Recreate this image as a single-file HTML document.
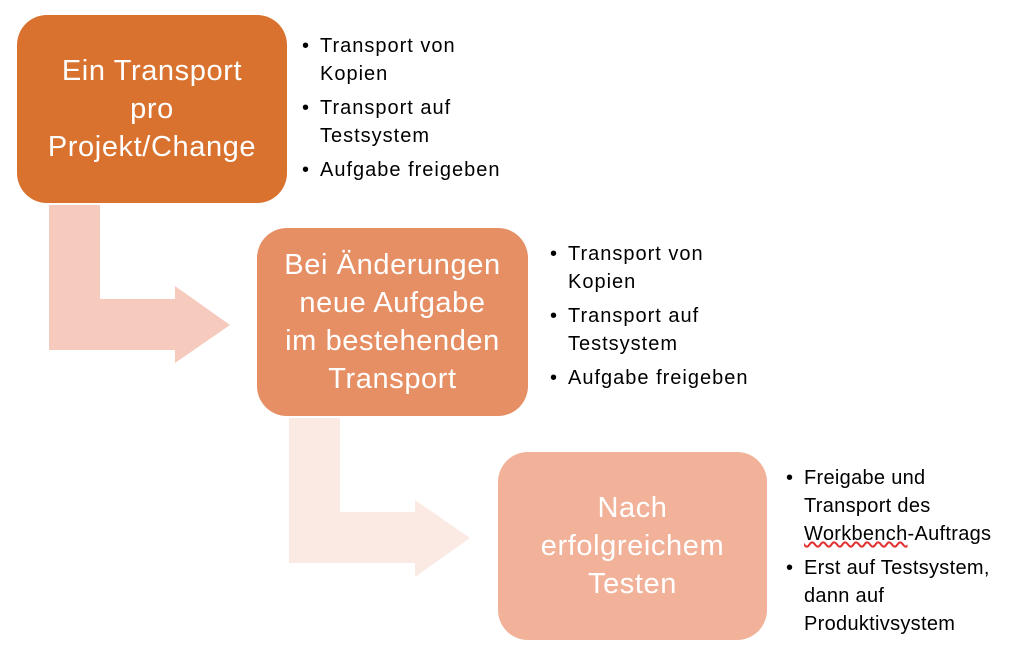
<!DOCTYPE html>
<html><head><meta charset="utf-8"><style>
body{margin:0;width:1024px;height:653px;background:#fff;position:relative;overflow:hidden;font-family:"Liberation Sans",sans-serif}
.box{position:absolute;border-radius:30px;color:#fff;display:flex;align-items:center;justify-content:center;text-align:center;font-size:29px;line-height:38px;letter-spacing:0.6px}
.list{position:absolute;font-size:20px;line-height:28px;color:#000;letter-spacing:1px}
.list div{position:relative;padding-left:18px;margin-bottom:6px}
.list div:before{content:"•";position:absolute;left:0}
</style></head><body>
<svg width="1024" height="653" style="position:absolute;left:0;top:0">
<polygon points="49,205 100,205 100,299 175,299 175,286 230,325 175,363 175,350 49,350" fill="#F6CBBD"/>
<polygon points="289,418 340,418 340,512 415,512 415,500 470,538 415,577 415,563 289,563" fill="#FBE9E4"/>
</svg>
<div class="box" style="left:17px;top:15px;width:270px;height:188px;background:#D9722E">Ein Transport<br>pro<br>Projekt/Change</div>
<div class="box" style="left:257px;top:228px;width:271px;height:188px;background:#E68F65">Bei Änderungen<br>neue Aufgabe<br>im bestehenden<br>Transport</div>
<div class="box" style="left:498px;top:452px;width:269px;height:188px;background:#F2B29A">Nach<br>erfolgreichem<br>Testen</div>
<div class="list" style="left:302px;top:32px"><div>Transport von<br>Kopien</div><div>Transport auf<br>Testsystem</div><div>Aufgabe freigeben</div></div>
<div class="list" style="left:550px;top:240px"><div>Transport von<br>Kopien</div><div>Transport auf<br>Testsystem</div><div>Aufgabe freigeben</div></div>
<div class="list" style="left:786px;top:464px;letter-spacing:0.3px"><div>Freigabe und<br>Transport des<br><span style="text-decoration:underline wavy #e03030">Workbench</span>-Auftrags</div><div>Erst auf Testsystem,<br>dann auf<br>Produktivsystem</div></div>
</body></html>
